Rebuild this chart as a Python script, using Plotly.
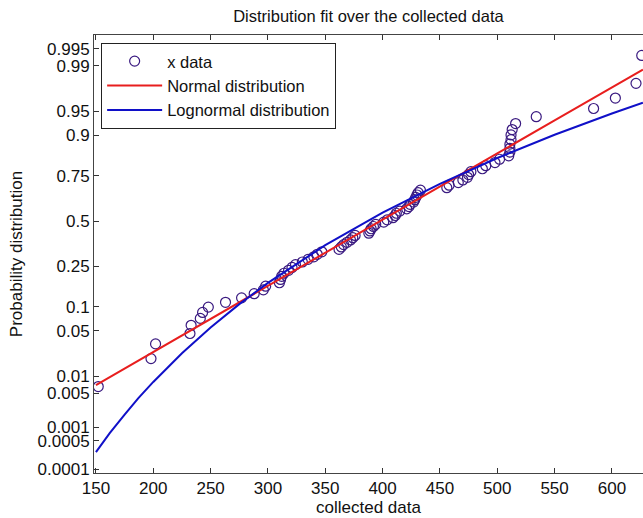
from statistics import NormalDist
import plotly.graph_objects as go

# collected data (sorted) and their plotted probabilities
x_data = [152, 198, 202, 232, 233, 241, 243, 248, 263, 277,
          288, 296, 298, 310, 311, 312, 314, 318, 321, 324,
          330, 335, 340, 343, 347, 362, 364, 366, 369, 372,
          374, 376, 388, 389, 390, 392, 394, 401, 404, 409,
          411, 412, 415, 421, 423, 424, 427, 428, 429, 430,
          431, 433, 456, 458, 466, 470, 474, 475, 477, 487,
          490, 498, 502, 510, 511, 511, 511, 512, 512, 513,
          516, 534, 584, 603, 621, 626]
p_data = [0.0066, 0.0197, 0.0329, 0.0461, 0.0592, 0.0724, 0.0855, 0.0987, 0.1118, 0.1250,
          0.1382, 0.1513, 0.1645, 0.1776, 0.1908, 0.2039, 0.2171, 0.2303, 0.2434, 0.2566,
          0.2697, 0.2829, 0.2961, 0.3092, 0.3224, 0.3355, 0.3487, 0.3618, 0.3750, 0.3882,
          0.4013, 0.4145, 0.4276, 0.4408, 0.4539, 0.4671, 0.4803, 0.4934, 0.5066, 0.5197,
          0.5329, 0.5461, 0.5592, 0.5724, 0.5855, 0.5987, 0.6118, 0.6250, 0.6382, 0.6513,
          0.6645, 0.6776, 0.6908, 0.7039, 0.7171, 0.7303, 0.7434, 0.7566, 0.7697, 0.7829,
          0.7961, 0.8092, 0.8224, 0.8355, 0.8487, 0.8618, 0.8750, 0.8882, 0.9013, 0.9145,
          0.9276, 0.9408, 0.9539, 0.9671, 0.9803, 0.9934]

# normal fit curve
x_norm = [150, 200, 250, 300, 350, 400, 450, 500, 550, 600, 627]
p_norm = [0.0070, 0.0250, 0.0714, 0.166, 0.317, 0.508, 0.697, 0.844, 0.934, 0.977, 0.9883]

# lognormal fit curve
x_logn = [150, 162, 175, 187, 200, 225, 250, 275, 300, 350, 400, 450, 500, 550, 600, 627]
p_logn = [0.00027, 0.00075, 0.00188, 0.0040, 0.0080, 0.0239, 0.0556, 0.1066, 0.1772,
          0.3587, 0.550, 0.711, 0.827, 0.9016, 0.9462, 0.9616]

x_ticks = [150, 200, 250, 300, 350, 400, 450, 500, 550, 600]
y_ticks = [0.0001, 0.0005, 0.001, 0.005, 0.01, 0.05, 0.1, 0.25, 0.5, 0.75, 0.9, 0.95, 0.99, 0.995]

nd = NormalDist()
def probit(ps):
    return [nd.inv_cdf(p) for p in ps]

font = "Liberation Sans, Arial, sans-serif"

fig = go.Figure()
fig.add_trace(go.Scatter(x=x_data, y=probit(p_data), mode="markers", name="x data",
                         marker=dict(symbol="circle-open", size=10, color="#3a1a80",
                                     line=dict(width=1.2))))
fig.add_trace(go.Scatter(x=x_norm, y=probit(p_norm), mode="lines", name="Normal distribution",
                         line=dict(color="#e81e1e", width=2)))
fig.add_trace(go.Scatter(x=x_logn, y=probit(p_logn), mode="lines", name="Lognormal distribution",
                         line=dict(color="#1010c8", width=2)))

fig.update_layout(
    width=643, height=518,
    margin=dict(l=94, r=0, t=35, b=45),
    paper_bgcolor="white", plot_bgcolor="white",
    font=dict(family=font, size=16.5, color="#111"),
    title=dict(text="Distribution fit over the collected data", x=0.573, xanchor="center",
               y=0.969, yanchor="middle", font=dict(size=16.5)),
    showlegend=True,
    legend=dict(x=0.013, y=0.982, xanchor="left", yanchor="top",
                bordercolor="#222", borderwidth=1, bgcolor="white",
                itemwidth=55, font=dict(size=16.5)),
)
fig.update_xaxes(range=[148.3, 627.1], tickvals=x_ticks, tickfont=dict(size=17),
                 ticks="inside", ticklen=5, tickcolor="#333", showline=True, linecolor="#444",
                 linewidth=1, mirror="ticks", showgrid=False, zeroline=False, automargin=False,
                 title=dict(text="collected data", standoff=2, font=dict(size=17)))
fig.update_yaxes(range=[-3.772, 2.784], tickvals=probit(y_ticks), ticktext=[str(t) for t in y_ticks],
                 tickfont=dict(size=17),
                 ticks="inside", ticklen=5, tickcolor="#333", showline=True, linecolor="#444",
                 linewidth=1, showgrid=False, zeroline=False, automargin=False,
                 title=dict(text="Probability distribution", standoff=10, font=dict(size=17)))

fig.write_html("out.html", config={"displayModeBar": False},
               post_script="document.body.style.margin='0';")
